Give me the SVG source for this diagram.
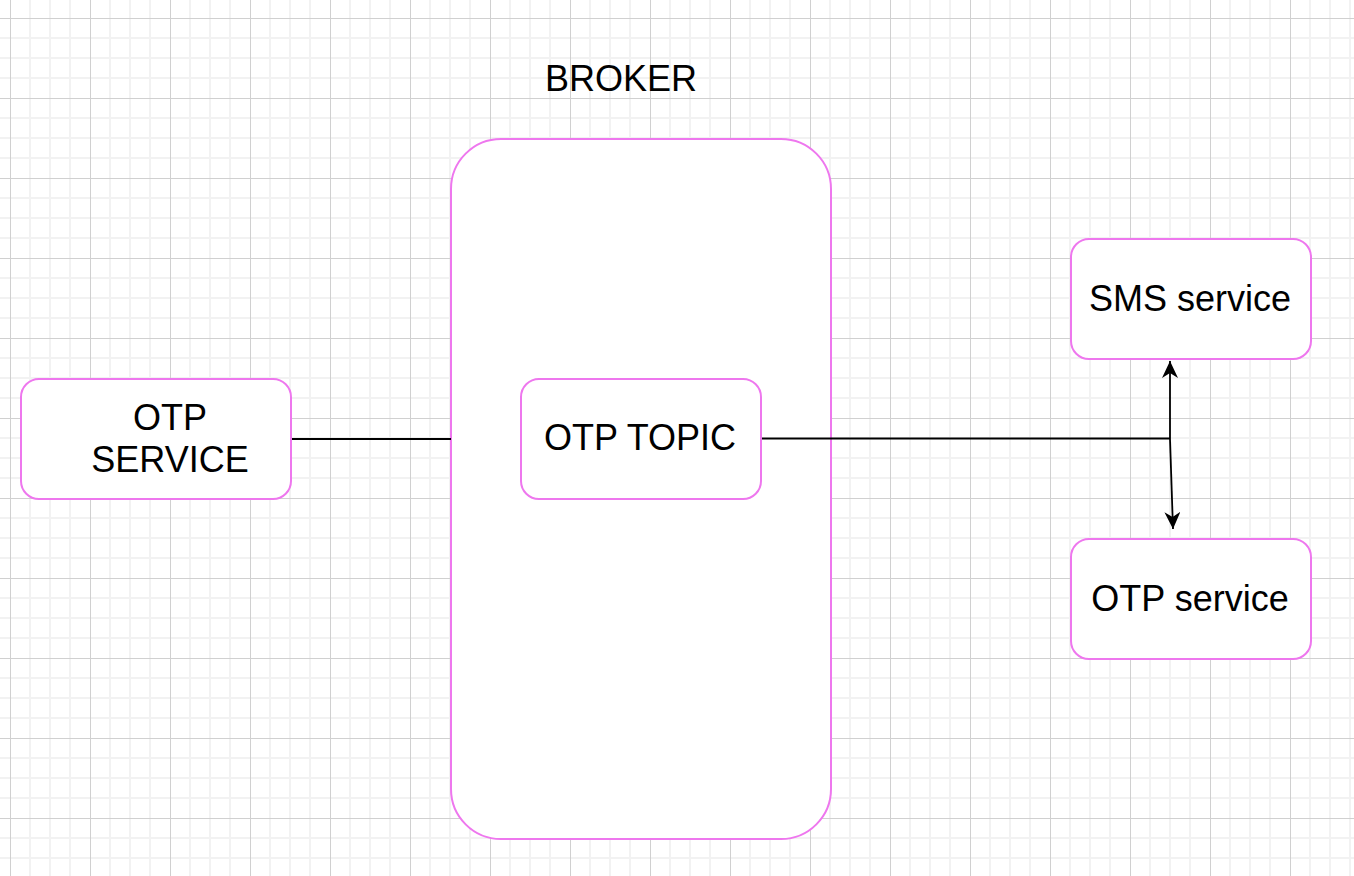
<svg xmlns="http://www.w3.org/2000/svg" width="1354" height="876" viewBox="0 0 1354 876">
  <style>
    .node { fill: #ffffff; stroke: #ee77ee; stroke-width: 2; }
    .label { font-family: "Liberation Sans", Arial, sans-serif; font-size: 36px; fill: #000000; text-anchor: middle; }
    .edge { fill: none; stroke: #000000; stroke-width: 1.8; }
  </style>
  <defs>
    <pattern id="grid" x="10" y="18" width="80" height="80" patternUnits="userSpaceOnUse">
      <path d="M20 0V80M40 0V80M60 0V80M0 20H80M0 40H80M0 60H80" stroke="#f2f2f2" stroke-width="2" fill="none"/>
      <path d="M0.5 0V80M0 0.5H80" stroke="#d0d0d0" stroke-width="1" fill="none"/>
    </pattern>
    <marker id="arrow" viewBox="0 0 18 16" refX="17" refY="8" markerWidth="18" markerHeight="16" markerUnits="userSpaceOnUse" orient="auto">
      <path d="M17 8 L0 0 L5 8 L0 16 Z" fill="#000000"/>
    </marker>
  </defs>
  <rect width="1354" height="876" fill="#ffffff"/>
  <rect width="1354" height="876" fill="url(#grid)"/>

  <g id="broker-label">
    <text class="label" x="621" y="91">BROKER</text>
  </g>

  <g id="broker">
    <rect class="node" x="451" y="139" width="380" height="700" rx="50" ry="50"/>
  </g>

  <g id="connectors">
    <path class="edge" d="M291 439 H451"/>
    <path class="edge" d="M761 438.5 H1170"/>
    <path class="edge" d="M1170 439 V361" marker-end="url(#arrow)"/>
    <path class="edge" d="M1170 439 L1173 529" marker-end="url(#arrow)"/>
  </g>

  <g id="otp-service-left">
    <rect class="node" x="21" y="379" width="270" height="120" rx="18" ry="18"/>
    <text class="label" x="170" y="430">OTP</text>
    <text class="label" x="170" y="472">SERVICE</text>
  </g>

  <g id="otp-topic">
    <rect class="node" x="521" y="379" width="240" height="120" rx="18" ry="18"/>
    <text class="label" x="640" y="450">OTP TOPIC</text>
  </g>

  <g id="sms-service">
    <rect class="node" x="1071" y="239" width="240" height="120" rx="18" ry="18"/>
    <text class="label" x="1190" y="311">SMS service</text>
  </g>

  <g id="otp-service-right">
    <rect class="node" x="1071" y="539" width="240" height="120" rx="18" ry="18"/>
    <text class="label" x="1190" y="611">OTP service</text>
  </g>
</svg>
